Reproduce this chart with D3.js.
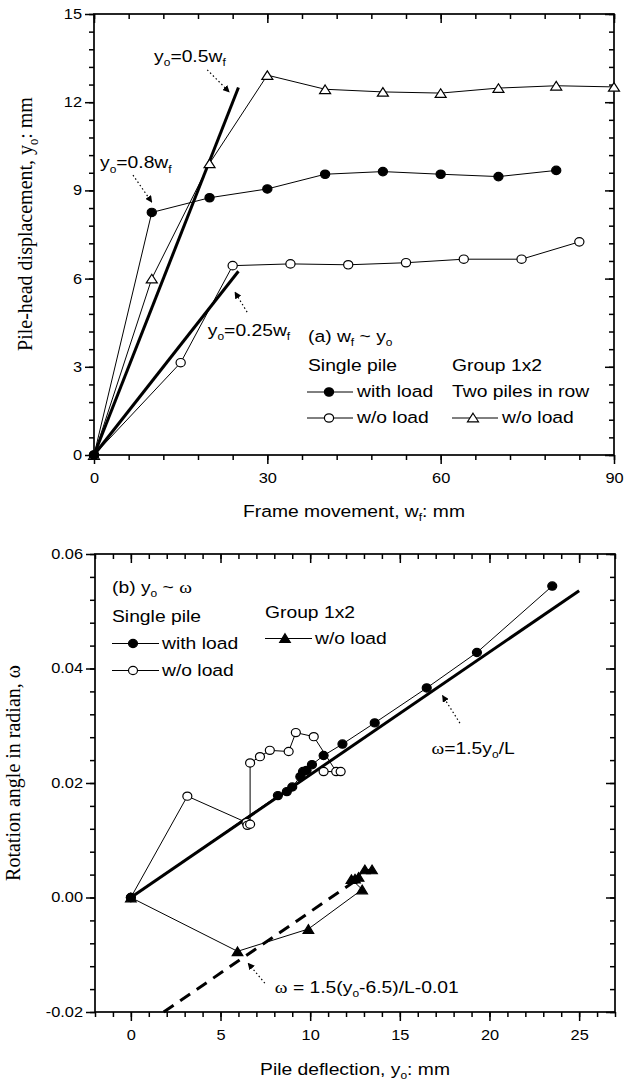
<!DOCTYPE html>
<html><head><meta charset="utf-8">
<script src="https://cdn.jsdelivr.net/npm/d3@7"></script>
<style>body{margin:0;background:#fff} svg{display:block} text{white-space:pre}</style>
</head><body>
<svg id="c" width="638" height="1086"></svg>
<script>
// ---------- Panel (a): frame movement vs pile-head displacement ----------
const aWithLoad = [[0,0],[10,8.25],[20,8.75],[30,9.05],[40,9.55],[50,9.64],[60,9.55],[70,9.47],[80,9.68]];
const aNoLoad = [[0,0],[15,3.14],[24,6.44],[34,6.5],[44,6.47],[54,6.54],[64,6.66],[74,6.66],[84,7.25]];
const aGroupNoLoad = [[0,0],[10,6.0],[20,9.92],[30,12.92],[40,12.44],[50,12.35],[60,12.31],[70,12.48],[80,12.56],[90,12.52]];
const aLine05 = [[0,0],[25,12.5]];
const aLine025 = [[0,0],[25,6.25]];
const aXTicks = [0,30,60,90];
const aYTicks = [0,3,6,9,12,15];

// ---------- Panel (b): pile deflection vs rotation angle ----------
const bWithLoad = [[0,0],[8.2,0.0178],[8.7,0.0185],[9.0,0.0193],[9.45,0.0211],[9.6,0.0220],[9.8,0.0222],[10.1,0.0232],[10.75,0.0248],[11.8,0.0268],[13.6,0.0305],[16.5,0.0366],[19.3,0.0428],[23.5,0.0544]];
const bNoLoad = [[0,0],[3.15,0.0177],[6.45,0.0131],[6.5,0.0126],[6.65,0.0128],[6.65,0.0235],[7.2,0.0246],[7.75,0.0257],[8.8,0.0255],[9.2,0.0288],[10.2,0.0281],[11.45,0.0220],[10.75,0.0220],[11.7,0.0220]];
const bGroupNoLoad = [[0,0],[5.95,-0.0094],[9.9,-0.0055],[12.9,0.0014],[12.3,0.0032],[12.5,0.0033],[12.7,0.0036],[13.05,0.0049],[13.45,0.0049]];
const bLineSingle = [[0,0],[25,0.0536]];
const bLineGroup = [[1.83,-0.02],[12.8,0.0035]];
const bXTicks = [0,5,10,15,20,25];
const bYTicks = [-0.02,0,0.02,0.04,0.06];

const SANS = "Arial, 'Liberation Sans', Helvetica, sans-serif";
const SERIF = "'Times New Roman', 'Liberation Serif', Times, serif";
const SX = 1.17;
const svg = d3.select('#c');

const ax = d3.scaleLinear().domain([0,90]).range([94,614]);
const ay = d3.scaleLinear().domain([0,15]).range([455,14]);
const bx = d3.scaleLinear().domain([-2,27]).range([95,615]);
const by = d3.scaleLinear().domain([-0.02,0.06]).range([1012,554]);

function rich(parent, x, y, parts, o = {}) {
  const size = o.size || 16.5, sx = o.sx || SX;
  let tr = `translate(${x},${y}) scale(${sx},1)`;
  if (o.rot) tr += ` rotate(${o.rot})`;
  const t = parent.append('text').attr('transform', tr)
    .attr('text-anchor', o.anchor || 'start')
    .attr('font-family', o.family || SANS).attr('font-size', size).attr('fill', '#000');
  let shift = 0;
  parts.forEach(p => {
    if (typeof p === 'string') p = {t: p};
    const s = t.append('tspan').text(p.t);
    if (p.f) s.attr('font-family', p.f);
    const want = p.sub ? size * 0.27 : 0;
    if (want !== shift) { s.attr('dy', want - shift); shift = want; }
    if (p.sub) s.attr('font-size', size * 0.62);
  });
  return t;
}

function frame(x, y, xMaj, xMin, yMaj, yMin, xFmt, yFmt) {
  const g = svg.append('g');
  const [x0, x1] = x.range(), [y0, y1] = y.range();
  const add = (tr, ax) => g.append('g').attr('transform', tr).call(ax);
  add(`translate(0,${y0})`, d3.axisBottom(x).tickValues(xMin).tickSize(5).tickFormat('').tickSizeOuter(0));
  const bx_ = add(`translate(0,${y0})`, d3.axisBottom(x).tickValues(xMaj).tickSize(9).tickPadding(9).tickFormat(xFmt).tickSizeOuter(0));
  add(`translate(0,${y1})`, d3.axisTop(x).tickValues(xMin).tickSize(-5).tickFormat('').tickSizeOuter(0));
  add(`translate(0,${y1})`, d3.axisTop(x).tickValues(xMaj).tickSize(-9).tickFormat('').tickSizeOuter(0));
  add(`translate(${x0},0)`, d3.axisLeft(y).tickValues(yMin).tickSize(5).tickFormat('').tickSizeOuter(0));
  const by_ = add(`translate(${x0},0)`, d3.axisLeft(y).tickValues(yMaj).tickSize(9).tickPadding(3).tickFormat(yFmt).tickSizeOuter(0));
  add(`translate(${x1},0)`, d3.axisRight(y).tickValues(yMin).tickSize(-5).tickFormat('').tickSizeOuter(0));
  add(`translate(${x1},0)`, d3.axisRight(y).tickValues(yMaj).tickSize(-9).tickFormat('').tickSizeOuter(0));
  g.selectAll('.domain').remove();
  g.selectAll('.tick line').attr('stroke', '#000').attr('stroke-width', 1.5);
  g.selectAll('g').attr('font-family', SANS).attr('font-size', 14);
  bx_.selectAll('.tick text').each(function() {
    const t = d3.select(this), yy = +t.attr('y');
    t.attr('y', 0).attr('fill', '#000').attr('transform', `translate(0,${yy}) scale(${SX},1)`);
  });
  by_.selectAll('.tick text').each(function() {
    const t = d3.select(this), xx = +t.attr('x');
    t.attr('x', 0).attr('fill', '#000').attr('transform', `translate(${xx},0) scale(${SX},1)`);
  });
  g.append('rect').attr('x', x0).attr('y', y1).attr('width', x1 - x0).attr('height', y0 - y1)
    .attr('fill', 'none').attr('stroke', '#000').attr('stroke-width', 1.7);
}

const step = (a, b, s) => d3.range(Math.round((b - a) / s) + 1).map(i => +(a + i * s).toFixed(4));
const fmtInt = d => d3.format('d')(d).replace('\u2212', '-');
const fmt2 = d => d3.format('.2f')(d).replace('\u2212', '-');

frame(ax, ay, aXTicks, step(0, 90, 6), aYTicks, step(0, 15, 0.6), fmtInt, fmtInt);
frame(bx, by, bXTicks, step(-2, 27, 1), bYTicks, step(-0.02, 0.06, 0.004), fmtInt, fmt2);

// arrowhead marker
svg.append('defs').append('marker').attr('id', 'ah').attr('viewBox', '0 0 10 10')
  .attr('refX', 9).attr('refY', 5).attr('markerWidth', 7).attr('markerHeight', 7)
  .attr('markerUnits', 'userSpaceOnUse').attr('orient', 'auto')
  .append('path').attr('d', 'M0,0L10,5L0,10Z').attr('fill', '#000');

function drawLine(x, y, data, w, dash) {
  const p = svg.append('path').datum(data)
    .attr('d', d3.line().x(d => x(d[0])).y(d => y(d[1])))
    .attr('fill', 'none').attr('stroke', '#000').attr('stroke-width', w);
  if (dash) p.attr('stroke-dasharray', dash);
}
function marker(g, cx, cy, type, fill, rx, ry) {
  if (type === 'c') {
    g.append('ellipse').attr('cx', cx).attr('cy', cy).attr('rx', rx).attr('ry', ry)
      .attr('fill', fill).attr('stroke', '#000').attr('stroke-width', 1.2);
  } else {
    g.append('path').attr('d', `M${cx},${cy - ry}L${cx + rx},${cy + ry}L${cx - rx},${cy + ry}Z`)
      .attr('fill', fill).attr('stroke', '#000').attr('stroke-width', 1.2).attr('stroke-linejoin', 'miter');
  }
}
function series(x, y, data, type, fill, rx, ry) {
  drawLine(x, y, data, 1, null);
  const g = svg.append('g');
  data.forEach(d => marker(g, x(d[0]), y(d[1]), type, fill, rx, ry));
}
function arrow(x, y, from, to) {
  svg.append('line').attr('x1', x(from[0])).attr('y1', y(from[1])).attr('x2', x(to[0])).attr('y2', y(to[1]))
    .attr('stroke', '#000').attr('stroke-width', 1.2).attr('stroke-dasharray', '1.5,2.5')
    .attr('marker-end', 'url(#ah)');
}

// ----- panel (a) marks -----
drawLine(ax, ay, aLine05, 3);
drawLine(ax, ay, aLine025, 3);
series(ax, ay, aGroupNoLoad, 't', '#fff', 5.5, 4.3);
series(ax, ay, aNoLoad, 'c', '#fff', 4.6, 4.2);
series(ax, ay, aWithLoad, 'c', '#000', 4.6, 4.2);

const ga = svg.append('g');
rich(ga, ax(10.4), ay(13.37), ['y', {t: 'o', sub: 1}, '=0.5w', {t: 'f', sub: 1}]);
arrow(ax, ay, [19.6, 13.1], [23.4, 12.35]);
rich(ga, ax(1.04), ay(9.76), ['y', {t: 'o', sub: 1}, '=0.8w', {t: 'f', sub: 1}]);
arrow(ax, ay, [6.75, 9.52], [10.0, 8.6]);
rich(ga, ax(19.7), ay(4.05), ['y', {t: 'o', sub: 1}, '=0.25w', {t: 'f', sub: 1}]);
arrow(ax, ay, [26.5, 4.86], [24.4, 5.54]);

// legend (a)
rich(ga, 308, 342, ['(a) w', {t: 'f', sub: 1}, ' ~ y', {t: 'o', sub: 1}]);
rich(ga, 308, 371, ['Single pile']);
rich(ga, 452, 371, ['Group 1x2']);
rich(ga, 452, 397, ['Two piles in row']);
[[307, 397, 'c', '#000', 'with load'], [307, 423, 'c', '#fff', 'w/o load'], [452, 423, 't', '#fff', 'w/o load']].forEach(([lx, ly, tp, f, lab]) => {
  ga.append('line').attr('x1', lx).attr('x2', lx + 46).attr('y1', ly - 5).attr('y2', ly - 5).attr('stroke', '#000').attr('stroke-width', 1);
  if (tp === 'c') marker(ga, lx + 22, ly - 5, 'c', f, 4.6, 4.2); else marker(ga, lx + 21, ly - 5.5, 't', f, 5.5, 4.3);
  rich(ga, lx + 50, ly, [lab]);
});

// axis titles (a)
rich(ga, 354, 517, ['Frame movement, w', {t: 'f', sub: 1}, ': mm'], {anchor: 'middle'});
rich(ga, 32, 224, ['Pile-head displacement, y', {t: 'o', sub: 1}, ': mm'], {anchor: 'middle', family: SERIF, size: 20, sx: 1.1, rot: -90});

// ----- panel (b) marks -----
drawLine(bx, by, bLineSingle, 3);
drawLine(bx, by, bLineGroup, 3, '12,8');
series(bx, by, bNoLoad, 'c', '#fff', 4.5, 4.1);
series(bx, by, bWithLoad, 'c', '#000', 4.5, 4.1);
series(bx, by, bGroupNoLoad, 't', '#000', 5.3, 4.3);

const gb = svg.append('g');
rich(gb, bx(16.77), by(0.02515), [{t: 'ω', f: SERIF}, '=1.5y', {t: 'o', sub: 1}, '/L']);
arrow(bx, by, [18.35, 0.03045], [17.38, 0.03528]);
rich(gb, bx(8.03), by(-0.0166), [{t: 'ω', f: SERIF}, ' = 1.5(y', {t: 'o', sub: 1}, '-6.5)/L-0.01']);
arrow(bx, by, [7.47, -0.01497], [6.54, -0.01148]);

// legend (b)
rich(gb, 112, 593, ['(b) y', {t: 'o', sub: 1}, ' ~ ', {t: 'ω', f: SERIF}]);
rich(gb, 112, 622, ['Single pile']);
rich(gb, 265, 618, ['Group 1x2']);
[[112, 649, 'c', '#000', 'with load'], [112, 676, 'c', '#fff', 'w/o load'], [265, 644, 't', '#000', 'w/o load']].forEach(([lx, ly, tp, f, lab]) => {
  gb.append('line').attr('x1', lx).attr('x2', lx + 47).attr('y1', ly - 5.5).attr('y2', ly - 5.5).attr('stroke', '#000').attr('stroke-width', 1);
  if (tp === 'c') marker(gb, lx + 21, ly - 5.5, 'c', f, 4.5, 4.1); else marker(gb, lx + 20, ly - 6, 't', f, 5.3, 4.3);
  rich(gb, lx + 50, ly, [lab]);
});

// axis titles (b)
rich(gb, 355, 1075, ['Pile deflection, y', {t: 'o', sub: 1}, ': mm'], {anchor: 'middle'});
rich(gb, 20, 773, ['Rotation angle in radian, ω'], {anchor: 'middle', family: SERIF, size: 20, sx: 1.1, rot: -90});
</script>
</body></html>
